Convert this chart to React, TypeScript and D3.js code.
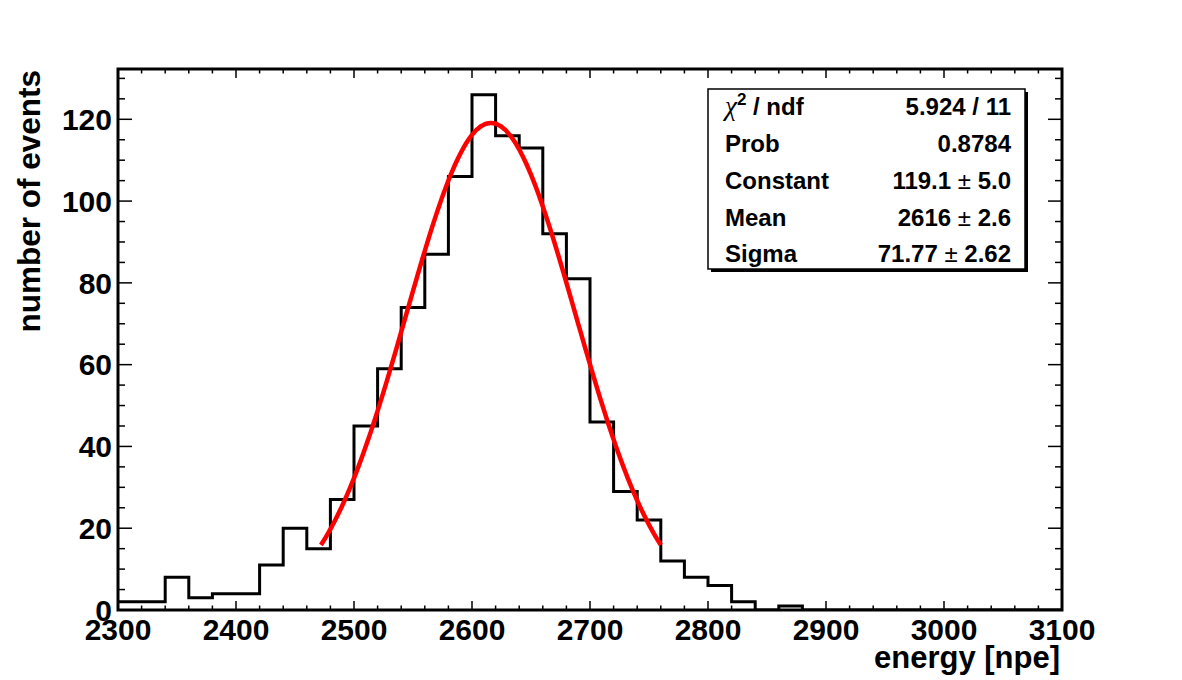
import React from "react";
import * as d3 from "d3";

// histogram: energy spectrum, 20 npe bins from 2300 to 3100
const binStart = 2300;
const binWidth = 20;
const counts = [
  2, 2, 8, 3, 4, 4, 11, 20, 15, 27, 45, 59, 74, 87, 106, 126, 116, 113, 92, 81,
  46, 29, 22, 12, 8, 6, 2, 0, 1, 0, 0, 0, 0, 0, 0, 0, 0, 0, 0, 0,
];

// gaussian fit results
const fitConstant = 119.1;
const fitMean = 2616;
const fitSigma = 71.77;
const fitRange = [2472, 2760];

const xTicks = [2300, 2400, 2500, 2600, 2700, 2800, 2900, 3000, 3100];
const yTicks = [0, 20, 40, 60, 80, 100, 120];

const statLabels = ["chi2", "Prob", "Constant", "Mean", "Sigma"];
const statValues = [["5.924 / 11"], ["0.8784"], ["119.1", "5.0"], ["2616", "2.6"], ["71.77", "2.62"]];

const W = 1182;
const H = 680;
const frame = { left: 118, right: 1062, top: 69, bottom: 610 };
const font = "'Liberation Sans', Arial, Helvetica, sans-serif";

const App: React.FC = () => {
  const x = d3.scaleLinear().domain([2300, 3100]).range([frame.left, frame.right]);
  const yMax = d3.max(counts)! * 1.05;
  const y = d3.scaleLinear().domain([0, yMax]).range([frame.bottom, frame.top]);

  // step outline of the histogram
  const edges: [number, number][] = counts.map((c, i) => [binStart + i * binWidth, c]);
  edges.push([binStart + counts.length * binWidth, counts[counts.length - 1]]);
  const histPath = d3
    .line<[number, number]>()
    .x((d) => x(d[0]))
    .y((d) => y(d[1]))
    .curve(d3.curveStepAfter)(edges)!;

  // fitted gaussian
  const gaus = (e: number) => fitConstant * Math.exp(-0.5 * Math.pow((e - fitMean) / fitSigma, 2));
  const fitPts = d3.range(fitRange[0], fitRange[1] + 0.5, 2).map((e) => [e, gaus(e)] as [number, number]);
  const fitPath = d3
    .line<[number, number]>()
    .x((d) => x(d[0]))
    .y((d) => y(d[1]))
    .curve(d3.curveMonotoneX)(fitPts)!;

  const xMinor = d3.range(2300, 3100.1, 20);
  const yMinor = d3.range(0, yMax, 5);

  const box = { x0: 708, y0: 89, x1: 1025, y1: 269 };
  const rowY = [115, 152, 189, 226, 262];

  return (
    <div style={{ position: "absolute", left: 0, top: 0 }}>
      <svg width={W} height={H} style={{ display: "block", background: "#fff" }} fontFamily={font}>
        <rect x={0} y={0} width={W} height={H} fill="#fff" />
        <defs>
          <clipPath id="frameClip">
            <rect x={frame.left} y={frame.top} width={frame.right - frame.left} height={frame.bottom - frame.top} />
          </clipPath>
        </defs>

        {/* x ticks, bottom and top */}
        {xMinor.map((v) => {
          const major = v % 100 === 0;
          const len = major ? 9 : 4.5;
          return (
            <g key={"xt" + v} stroke="#000" strokeWidth={1.5}>
              <line x1={x(v)} x2={x(v)} y1={frame.bottom} y2={frame.bottom - len} />
              <line x1={x(v)} x2={x(v)} y1={frame.top} y2={frame.top + len} />
            </g>
          );
        })}
        {/* y ticks, left and right */}
        {yMinor.map((v) => {
          const major = v % 20 === 0;
          const len = major ? 14 : 7;
          return (
            <g key={"yt" + v} stroke="#000" strokeWidth={1.5}>
              <line x1={frame.left} x2={frame.left + len} y1={y(v)} y2={y(v)} />
              <line x1={frame.right} x2={frame.right - len} y1={y(v)} y2={y(v)} />
            </g>
          );
        })}

        {/* histogram */}
        <path
          d={histPath}
          fill="none"
          stroke="#000"
          strokeWidth={3}
          strokeLinejoin="miter"
          clipPath="url(#frameClip)"
        />

        {/* fit */}
        <path d={fitPath} fill="none" stroke="#ff0000" strokeWidth={4.5} />

        {/* frame */}
        <rect
          x={frame.left}
          y={frame.top}
          width={frame.right - frame.left}
          height={frame.bottom - frame.top}
          fill="none"
          stroke="#000"
          strokeWidth={3}
        />

        {/* tick labels */}
        {xTicks.map((v) => (
          <text key={"xl" + v} x={x(v)} y={640} textAnchor="middle" fontSize={30} fontWeight="bold">
            {v}
          </text>
        ))}
        {yTicks.map((v) => (
          <text key={"yl" + v} x={112} y={y(v) + 10.7} textAnchor="end" fontSize={30} fontWeight="bold">
            {v}
          </text>
        ))}

        {/* axis titles */}
        <text x={frame.right - 2} y={668} textAnchor="end" fontSize={31} fontWeight="bold">
          energy [npe]
        </text>
        <text
          transform={`translate(40,${frame.top + 1}) rotate(-90)`}
          textAnchor="end"
          fontSize={31.5}
          fontWeight="bold"
        >
          number of events
        </text>

        {/* fit statistics box */}
        <rect x={box.x0 + 3} y={box.y0 + 3} width={box.x1 - box.x0} height={box.y1 - box.y0} fill="#000" />
        <rect
          x={box.x0}
          y={box.y0}
          width={box.x1 - box.x0}
          height={box.y1 - box.y0}
          fill="#fff"
          stroke="#000"
          strokeWidth={1.5}
        />
        {statLabels.map((lab, i) => (
          <text key={"sl" + i} x={725} y={rowY[i]} fontSize={24} fontWeight="bold">
            {lab === "chi2" ? (
              <>
                <tspan fontFamily="'Liberation Serif', 'DejaVu Serif', serif" fontWeight="normal" fontStyle="italic" fontSize={27}>
                  χ
                </tspan>
                <tspan dy={-10} fontSize={17}>2</tspan>
                <tspan dy={10}> / ndf</tspan>
              </>
            ) : (
              lab
            )}
          </text>
        ))}
        {statValues.map((vals, i) => (
          <text key={"sv" + i} x={1011} y={rowY[i]} fontSize={24} fontWeight="bold" textAnchor="end">
            {vals.length === 1 ? (
              vals[0]
            ) : (
              <>
                {vals[0] + " "}
                <tspan fontWeight="normal">±</tspan>
                {" " + vals[1]}
              </>
            )}
          </text>
        ))}
      </svg>
    </div>
  );
};

export default App;
